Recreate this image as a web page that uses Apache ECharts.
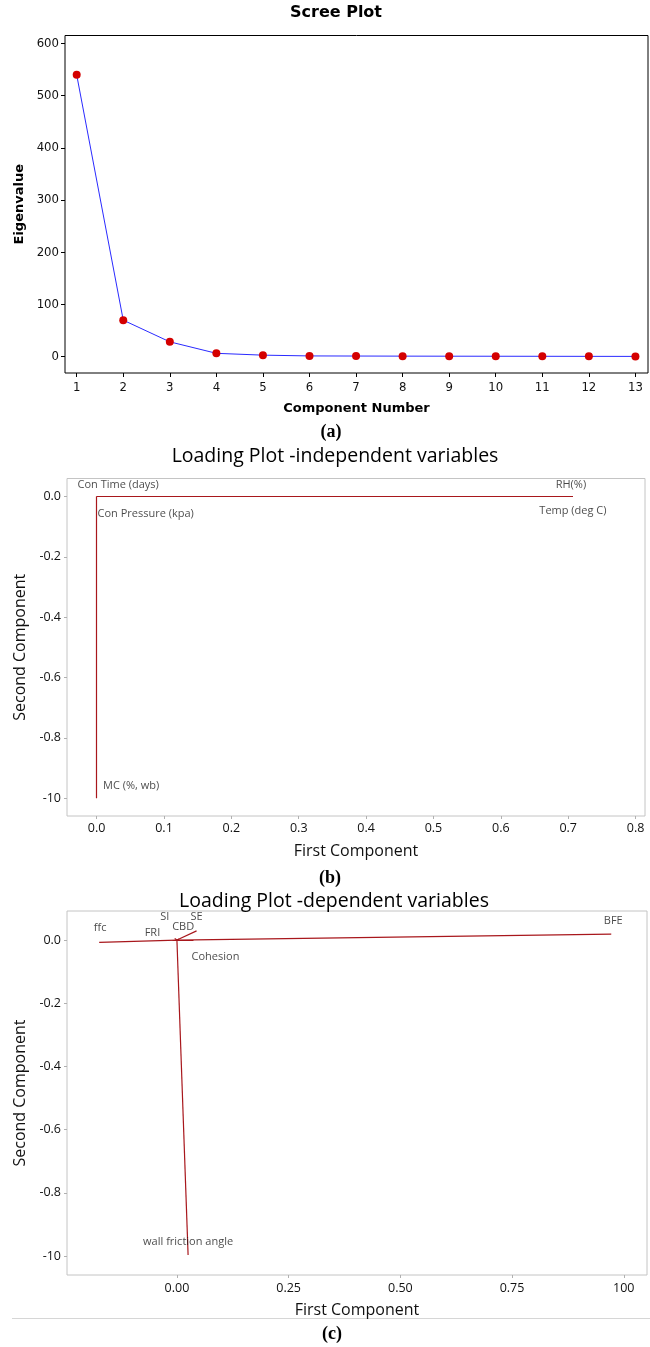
<!DOCTYPE html>
<html>
<head>
<meta charset="utf-8">
<script src="https://cdn.jsdelivr.net/npm/echarts@6/dist/echarts.min.js"></script>
<style>html,body{margin:0;padding:0;background:#fff}#c{width:650px;height:1347px}</style>
</head>
<body>
<div id="c"></div>
<script>
// ---- (a) Scree plot data ----
const screeComponents = [1, 2, 3, 4, 5, 6, 7, 8, 9, 10, 11, 12, 13];
const screeEigenvalues = [540, 70, 28.5, 6.5, 3.0, 1.5, 1.3, 1.1, 1.0, 0.9, 0.8, 0.7, 0.6];
const screeYTicks = [0, 100, 200, 300, 400, 500, 600];

// ---- (b) Loading plot - independent variables ----
const indepNames = ['Con Time (days)', 'Con Pressure (kpa)', 'RH(%)', 'Temp (deg C)', 'MC (%, wb)'];
const indepPC1 = [0.0, 0.0, 0.707, 0.707, 0.0];
const indepPC2 = [0.0, 0.0, 0.0, 0.0, -1.0];
const indepXTicks = [0, 0.1, 0.2, 0.3, 0.4, 0.5, 0.6, 0.7, 0.8];
const indepXTickLabels = ['0.0', '0.1', '0.2', '0.3', '0.4', '0.5', '0.6', '0.7', '0.8'];

// ---- (c) Loading plot - dependent variables ----
const depNames = ['ffc', 'FRI', 'SI', 'CBD', 'SE', 'Cohesion', 'BFE', 'wall friction angle'];
const depPC1 = [-0.174, -0.010, -0.005, 0.005, 0.044, 0.037, 0.972, 0.025];
const depPC2 = [-0.007, 0.000, 0.005, 0.003, 0.029, 0.000, 0.019, -0.997];
const depXTicks = [0, 0.25, 0.5, 0.75, 1.0];
const depXTickLabels = ['0.00', '0.25', '0.50', '0.75', '100'];

// shared second-component ticks
const loadYTicks = [0, -0.2, -0.4, -0.6, -0.8, -1.0];
const loadYTickLabels = ['0.0', '-0.2', '-0.4', '-0.6', '-0.8', '-10'];

// ---- label placement styles (pixel offsets from vector ends) ----
const indepLabelOffsets = [[21.5, -12], [49, 17], [-2, -12], [0, 14], [34.5, -12.5]];
const depLabelOffsets = [[1, -14], [-20, -7], [-10, -22], [4, -12], [0, -14], [22, 16.5], [2, -13], [0, -13]];

const FONT_A = '"DejaVu Sans Condensed", "DejaVu Sans", sans-serif';
const FONT_B = '"Open Sans", "Noto Sans", sans-serif';
const VEC = '#a8171c';

function lookup(ticks, labels) {
  return function (v) {
    for (let i = 0; i < ticks.length; i++) if (Math.abs(ticks[i] - v) < 1e-9) return labels[i];
    return '';
  };
}

function valAxis(o) {
  return {
    type: 'value', gridIndex: o.grid, min: o.min, max: o.max,
    name: o.name, nameLocation: 'middle', nameGap: o.nameGap,
    nameTextStyle: o.nameStyle,
    axisLine: { show: false, onZero: false },
    splitLine: { show: false },
    axisTick: { show: true, customValues: o.ticks, length: o.tickLen, lineStyle: { color: o.tickColor, width: 1 } },
    axisLabel: {
      customValues: o.ticks, formatter: lookup(o.ticks, o.labels), margin: o.margin,
      fontFamily: o.font, fontSize: o.fontSize, color: o.color,
      showMinLabel: true, showMaxLabel: true
    }
  };
}

const chart = echarts.init(document.getElementById('c'), null, { renderer: 'canvas' });

const option = {
  animation: false,
  backgroundColor: '#fff',
  grid: [
    { left: 65, top: 35.5, width: 583, height: 337.5, show: true, borderColor: '#000', borderWidth: 1, backgroundColor: 'transparent' },
    { left: 67, top: 478.5, width: 578, height: 337.5, show: true, borderColor: '#c4c4c4', borderWidth: 1, backgroundColor: 'transparent' },
    { left: 67, top: 911, width: 580, height: 364, show: true, borderColor: '#c4c4c4', borderWidth: 1, backgroundColor: 'transparent' }
  ],
  xAxis: [
    valAxis({ grid: 0, min: 0.749, max: 13.27, ticks: screeComponents, labels: screeComponents.map(String),
      name: 'Component Number', nameGap: 29.5,
      nameStyle: { fontFamily: '"DejaVu Sans", sans-serif', fontWeight: 'bold', fontSize: 13, color: '#000' },
      tickLen: 4, tickColor: '#000', margin: 8, font: FONT_A, fontSize: 13, color: '#111' }),
    valAxis({ grid: 1, min: -0.044, max: 0.814, ticks: indepXTicks, labels: indepXTickLabels,
      name: 'First Component', nameGap: 27,
      nameStyle: { fontFamily: FONT_B, fontSize: 16, color: '#111' },
      tickLen: 3, tickColor: '#b0b0b0', margin: 6, font: FONT_B, fontSize: 12.5, color: '#111' }),
    valAxis({ grid: 2, min: -0.246, max: 1.052, ticks: depXTicks, labels: depXTickLabels,
      name: 'First Component', nameGap: 27,
      nameStyle: { fontFamily: FONT_B, fontSize: 16, color: '#111' },
      tickLen: 3, tickColor: '#b0b0b0', margin: 7, font: FONT_B, fontSize: 12.5, color: '#111' })
  ],
  yAxis: [
    valAxis({ grid: 0, min: -31.2, max: 615.3, ticks: screeYTicks, labels: screeYTicks.map(String),
      name: 'Eigenvalue', nameGap: 37,
      nameStyle: { fontFamily: '"DejaVu Sans", sans-serif', fontWeight: 'bold', fontSize: 13, color: '#000' },
      tickLen: 4, tickColor: '#000', margin: 6, font: FONT_A, fontSize: 13, color: '#111' }),
    valAxis({ grid: 1, min: -1.059, max: 0.060, ticks: loadYTicks, labels: loadYTickLabels,
      name: 'Second Component', nameGap: 39,
      nameStyle: { fontFamily: FONT_B, fontSize: 16, color: '#111' },
      tickLen: 3, tickColor: '#b0b0b0', margin: 6, font: FONT_B, fontSize: 12.5, color: '#111' }),
    valAxis({ grid: 2, min: -1.060, max: 0.092, ticks: loadYTicks, labels: loadYTickLabels,
      name: 'Second Component', nameGap: 38,
      nameStyle: { fontFamily: FONT_B, fontSize: 16, color: '#111' },
      tickLen: 3, tickColor: '#b0b0b0', margin: 6, font: FONT_B, fontSize: 12.5, color: '#111' })
  ],
  series: [
    {
      type: 'line', xAxisIndex: 0, yAxisIndex: 0,
      data: screeComponents.map((c, i) => [c, screeEigenvalues[i]]),
      symbol: 'circle', symbolSize: 8,
      itemStyle: { color: '#d40000', borderWidth: 0 },
      lineStyle: { color: '#2a2aff', width: 1 },
      silent: true
    },
    {
      type: 'lines', coordinateSystem: 'cartesian2d', xAxisIndex: 1, yAxisIndex: 1,
      data: indepNames.map((n, i) => ({ coords: [[0, 0], [indepPC1[i], indepPC2[i]]] })),
      lineStyle: { color: VEC, width: 1.2, opacity: 1 }, silent: true
    },
    {
      type: 'scatter', xAxisIndex: 1, yAxisIndex: 1, symbolSize: 1,
      itemStyle: { color: 'rgba(0,0,0,0)' },
      data: indepNames.map((n, i) => ({ name: n, value: [indepPC1[i], indepPC2[i]], label: { offset: indepLabelOffsets[i] } })),
      label: { show: true, position: 'inside', formatter: '{b}', fontFamily: FONT_B, fontSize: 11, color: '#1a1a1a' },
      silent: true
    },
    {
      type: 'lines', coordinateSystem: 'cartesian2d', xAxisIndex: 2, yAxisIndex: 2,
      data: depNames.map((n, i) => ({ coords: [[0, 0], [depPC1[i], depPC2[i]]] })),
      lineStyle: { color: VEC, width: 1.2, opacity: 1 }, silent: true
    },
    {
      type: 'scatter', xAxisIndex: 2, yAxisIndex: 2, symbolSize: 1,
      itemStyle: { color: 'rgba(0,0,0,0)' },
      data: depNames.map((n, i) => ({ name: n, value: [depPC1[i], depPC2[i]], label: { offset: depLabelOffsets[i] } })),
      label: { show: true, position: 'inside', formatter: '{b}', fontFamily: FONT_B, fontSize: 11, color: '#1a1a1a' },
      silent: true
    }
  ],
  graphic: [
    { type: 'text', x: 336, y: 13, style: { text: 'Scree Plot', font: 'bold 16px "DejaVu Sans", sans-serif', fill: '#000', align: 'center', verticalAlign: 'middle' } },
    { type: 'text', x: 331, y: 432, style: { text: '(a)', font: 'bold 18px "Liberation Serif", serif', fill: '#000', align: 'center', verticalAlign: 'middle' } },
    { type: 'text', x: 335, y: 456, style: { text: 'Loading Plot -independent variables', font: '19.5px "Open Sans", "Noto Sans", sans-serif', fill: '#000', align: 'center', verticalAlign: 'middle' } },
    { type: 'text', x: 330, y: 878, style: { text: '(b)', font: 'bold 18px "Liberation Serif", serif', fill: '#000', align: 'center', verticalAlign: 'middle' } },
    { type: 'text', x: 334, y: 901.5, style: { text: 'Loading Plot -dependent variables', font: '19.5px "Open Sans", "Noto Sans", sans-serif', fill: '#000', align: 'center', verticalAlign: 'middle' } },
    { type: 'line', shape: { x1: 12, y1: 1318.5, x2: 650, y2: 1318.5 }, style: { stroke: '#d6d6d6', lineWidth: 1 } },
    { type: 'text', x: 332, y: 1334, style: { text: '(c)', font: 'bold 18px "Liberation Serif", serif', fill: '#000', align: 'center', verticalAlign: 'middle' } }
  ]
};

chart.setOption(option);
</script>
</body>
</html>
